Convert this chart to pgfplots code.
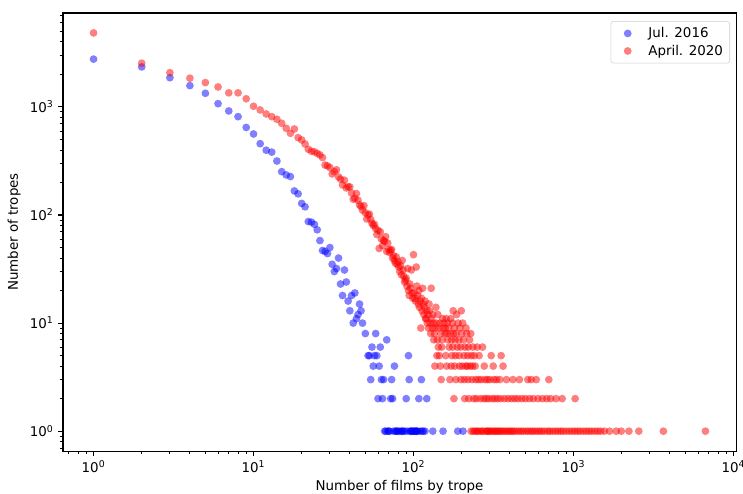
\documentclass[border=0pt]{standalone}
\usepackage{fontspec}
\setmainfont{DejaVu Sans}
\usepackage{pgfplots}
\pgfplotsset{compat=1.18}
\begin{document}
\begin{tikzpicture}
\begin{axis}[
  at={(0,0)}, anchor=south west,
  scale only axis, width=502.2pt, height=326.9pt,
  xmode=log, ymode=log,
  xmin=0.644, xmax=10380, ymin=0.654, ymax=7400,
  xtick={1,10,100,1000,10000},
  xticklabels={10\textsuperscript{0},10\textsuperscript{1},10\textsuperscript{2},10\textsuperscript{3},10\textsuperscript{4}},
  ytick={1,10,100,1000},
  yticklabels={10\textsuperscript{0},10\textsuperscript{1},10\textsuperscript{2},10\textsuperscript{3}},
  minor xtick={0.7,0.8,0.9,2,3,4,5,6,7,8,9,20,30,40,50,60,70,80,90,200,300,400,500,600,700,800,900,2000,3000,4000,5000,6000,7000,8000,9000},
  minor ytick={0.7,0.8,0.9,2,3,4,5,6,7,8,9,20,30,40,50,60,70,80,90,200,300,400,500,600,700,800,900,2000,3000,4000,5000,6000,7000},
  tick align=outside, xtick pos=bottom, ytick pos=left,
  major tick length=3.5pt, minor tick length=2pt,
  every major tick/.append style={black, line width=0.8pt},
  every minor tick/.append style={black, line width=0.6pt},
  axis line style={line width=0.8pt},
  xlabel={Number of films by trope}, ylabel={Number of tropes},
  xlabel style={yshift=1.2pt},
  label style={font=\fontsize{10}{12}\selectfont},
  ticklabel style={font=\fontsize{10}{12}\selectfont},
  legend cell align=left,
  legend image code/.code={\path[draw=none,fill=none] (-9.6pt,0pt) (13.4pt,0pt); \draw[#1] plot coordinates {(0pt,0pt)};},
  legend style={at={(1,1)}, anchor=north east, xshift=-4.5pt, yshift=-6pt,
    draw=black!20, rounded corners=2pt, fill=white, fill opacity=0.8, text opacity=1,
    font=\fontsize{10}{12}\selectfont, inner xsep=3pt, inner ysep=3pt, row sep=1pt,
    nodes={inner ysep=1.5pt}},
]
\addplot[only marks, mark=*, mark size=2.9pt, color=blue, mark options={fill=blue, fill opacity=0.5, draw opacity=0}] coordinates {
(1,2770)(2,2345)(3,1865)(4,1575)(5,1337)(6,1072)(7,918)(8,813)(9,646)(10,562)(11,457)(12,398)(13,382)(14,316)(15,252)(16,235)(17,227)(18,167)(19,157)(20,128)(21,119)(22,87)(23,86)(24,82)(25,73)(26,58)(27,47)(28,46)(29,44)(30,50)(31,35)(32,30)(33,32)(34,40)(35,23)(36,18)(37,31)(38,24)(39,16)(40,13)(41,18)(42,10)(43,19)(44,11)(45,12)(46,15)(47,13)(48,10)(50,8)(52,5)(53,5)(54,3)(55,6)(56,4)(57,5)(58,8)(59,5)(60,2)(61,4)(62,6)(63,3)(64,2)(65,3)(68,7)(72,2)(73,3)(74,2)(76,4)(90,2)(93,5)(94,3)(108,2)(112,3)(121,2)
(66,1)(67,1)(69,1)(70,1)(71,1)(75,1)(77,1)(78,1)(79,1)(80,1)(82,1)(84,1)(85,1)(86,1)(88,1)(91,1)(95,1)(96,1)(97,1)(99,1)(100,1)(101,1)(103,1)(104,1)(105,1)(106,1)(110,1)(113,1)(115,1)(118,1)(132,1)(153,1)(189,1)(204,1)
};
\addlegendentry{Jul. 2016}
\addplot[only marks, mark=*, mark size=2.9pt, color=red, mark options={fill=red, fill opacity=0.5, draw opacity=0}] coordinates {
(1,4840)(2,2540)(3,2075)(4,1845)(5,1680)(6,1530)(7,1350)(8,1350)(9,1190)(10,1015)(11,938)(12,862)(13,813)(14,769)(15,706)(16,635)(17,570)(18,626)(19,520)(20,495)(21,454)(22,406)
(23,389)(24,385)(25,372)(26,360)(27,340)(28,290)(29,285)(30,275)(31,240)(32,252)(33,262)(34,225)(35,215)(36,190)(37,210)(38,178)(39,183)(40,182)(41,160)(42,140)(43,143)(44,158)(45,137)(46,124)(47,120)(48,111)(49,122)(50,105)(51,92)(52,100)(53,102)(54,91)(55,84)(56,80)(57,82)(58,75)(59,66)(60,72)(61,49)(62,70)(63,60)(64,52)(65,58)(66,57)(67,63)(68,46)(69,55)(70,48)(71,45)(72,47)(73,48)(74,40)(75,42)(76,38)(77,36)(78,41)(79,35)(80,37)(81,33)(82,30)(83,34)(84,28)(85,38)(86,31)(87,27)(88,24)(89,25)(90,26)(91,22)(92,32)(93,20)(94,18)(95,23)(96,21)(97,31)(98,19)(99,17)(100,43)(101,19)(102,17)(103,16)(104,33)(105,22)(106,18)(107,15)(108,20)(109,14)(110,16)(111,9)(112,17)(113,13)(114,21)(115,15)(116,12)(117,14)(118,16)(119,11)(120,11)(121,13)(122,10)(123,12)(124,9)(125,15)(126,13)(127,10)(128,8)(129,21)(130,11)(131,9)(132,12)(133,10)(134,7)(135,8)(136,4)(137,9)(138,14)(139,10)(140,5)(141,7)(142,12)(143,6)(144,9)(145,5)(146,10)(147,4)(148,8)(149,3)(150,6)
(177,13)(199,13)(186,12)(152,11)(160,11)(171,11)(155,10)(163,10)(175,10)(190,10)(203,10)
(153,9)(158,9)(166,9)(180,9)(195,9)(213,9)
(157,8)(162,8)(170,8)(178,8)(185,8)(200,8)(215,8)(228,8)
(151,7)(164,7)(173,7)(182,7)(192,7)(205,7)(224,7)
(167,6)(176,6)(188,6)(197,6)(210,6)(220,6)(235,6)(250,6)(270,6)
(159,5)(174,5)(183,5)(193,5)(207,5)(218,5)(230,5)(240,5)(257,5)(306,5)(353,5)
(161,4)(172,4)(181,4)(194,4)(202,4)(212,4)(217,4)(226,4)(234,4)(243,4)(277,4)(315,4)(363,4)
(169,3)(184,3)(198,3)(208,3)(219,3)(232,3)(245,3)(255,3)(265,3)(280,3)(290,3)(300,3)(318,3)(330,3)(346,3)(381,3)(418,3)(459,3)(518,3)(544,3)(585,3)(701,3)
(179,2)(209,2)(222,2)(238,2)(247,2)(262,2)(275,2)(285,2)(295,2)(310,2)(322,2)(335,2)(350,2)(370,2)(390,2)(410,2)(430,2)(450,2)(475,2)(500,2)(530,2)(560,2)(600,2)(640,2)(680,2)(720,2)(778,2)(850,2)(1024,2)
(229,1)(236,1)(242,1)(249,1)(252,1)(260,1)(268,1)(272,1)(283,1)(288,1)(293,1)(298,1)(305,1)(312,1)(320,1)(326,1)(333,1)(340,1)(348,1)(356,1)(365,1)(375,1)(385,1)(395,1)(405,1)(415,1)(425,1)(440,1)(455,1)(470,1)(485,1)(505,1)(520,1)(540,1)(555,1)(575,1)(595,1)(615,1)(635,1)(660,1)(690,1)(710,1)(740,1)(770,1)(800,1)(830,1)(860,1)(900,1)(940,1)(980,1)(1020,1)(1060,1)(1100,1)(1150,1)(1200,1)(1250,1)(1300,1)(1360,1)(1420,1)(1480,1)(1560,1)(1680,1)(1850,1)(1990,1)(2220,1)(2560,1)(3650,1)(6680,1)
};
\addlegendentry{April. 2020}
\end{axis}
\pgfresetboundingbox
\path[use as bounding box] (-47pt,-31.3pt) rectangle (507.4pt,336.6pt);
\end{tikzpicture}
\end{document}
